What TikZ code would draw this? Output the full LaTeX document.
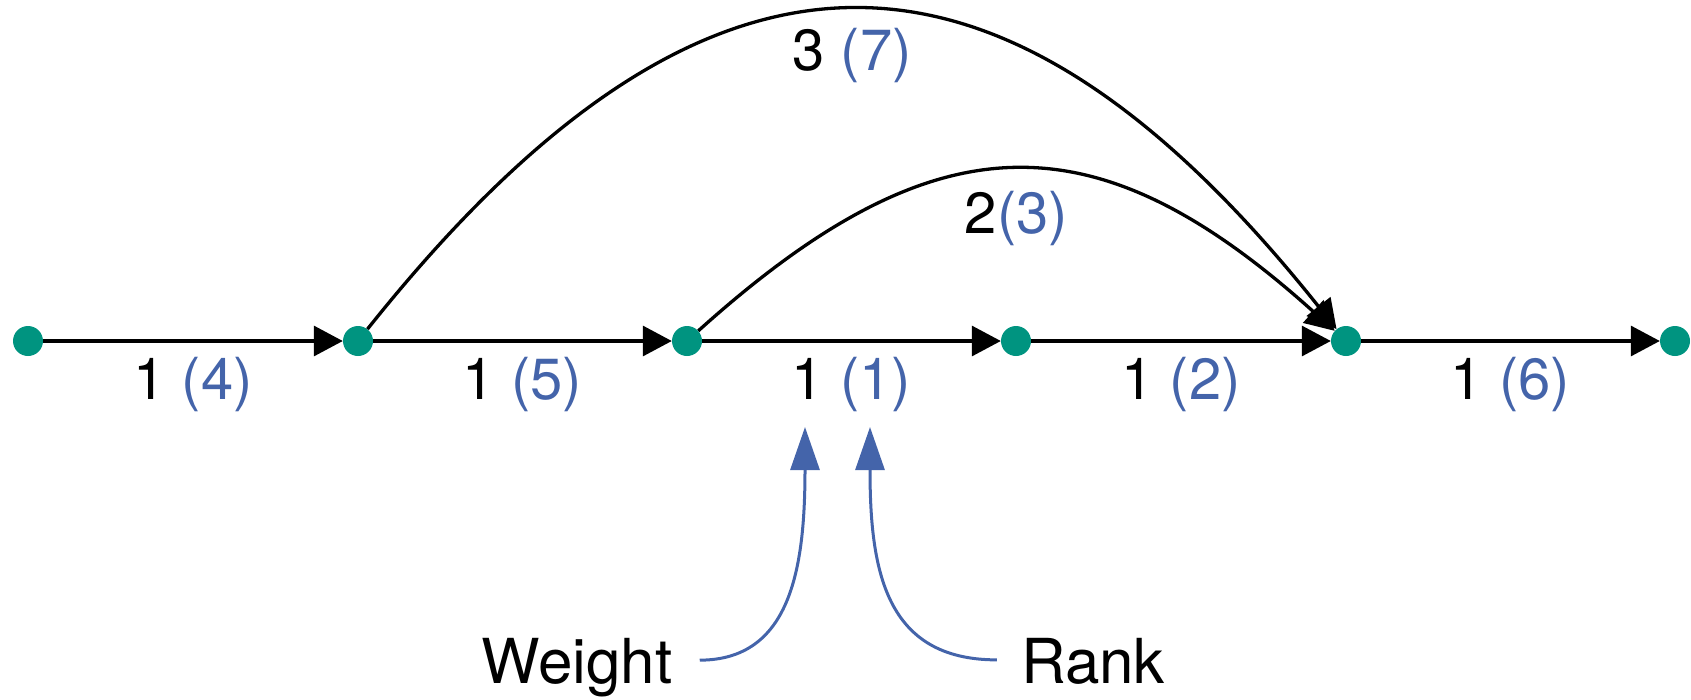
\documentclass[tikz,border=0pt]{standalone}
\usepackage{fontspec}
\setmainfont{TeX Gyre Heros}
\usepackage{tikz}
\usetikzlibrary{arrows.meta,positioning}
\definecolor{vertexgreen}{HTML}{009480}
\definecolor{rankblue}{HTML}{4464AA}
\newcommand{\rankof}[1]{{\color{rankblue}(#1)}}

\begin{document}
\begin{tikzpicture}[
    x=1pt, y=-1pt,
    vertex/.style={
        circle,
        fill=vertexgreen,
        minimum size=30pt,
        inner sep=0pt
    },
    edge/.style={
        draw,
        line width=3.3pt,
        -{Triangle[length=29pt,width=30pt]}
    },
    weightlabel/.style={
        anchor=base,
        inner sep=0pt,
        font=\fontsize{58}{70}\selectfont
    },
    pointerlabel/.style={
        weightlabel,
        font=\fontsize{62}{74}\selectfont
    },
    pointer/.style={
        draw=rankblue,
        line width=3pt,
        -{Triangle[length=43pt,width=29pt]}
    }
]
\useasboundingbox (0,0) rectangle (1691,699);

\node[vertex] (v1) at (28,341) {};
\node[vertex] (v2) at (358,341) {};
\node[vertex] (v3) at (687,341) {};
\node[vertex] (v4) at (1016,341) {};
\node[vertex] (v5) at (1346,341) {};
\node[vertex] (v6) at (1675,341) {};

\draw[edge] (v1) -- (v2) node[weightlabel, midway, yshift=-58pt] {1 \rankof{4}};
\draw[edge] (v2) -- (v3) node[weightlabel, midway, yshift=-58pt] {1 \rankof{5}};
\draw[edge] (v3) -- (v4) node[weightlabel, midway, yshift=-58pt] (w34) {1 \rankof{1}};
\draw[edge] (v4) -- (v5) node[weightlabel, midway, yshift=-58pt] {1 \rankof{2}};
\draw[edge] (v5) -- (v6) node[weightlabel, midway, yshift=-58pt] {1 \rankof{6}};

\draw[edge] (v2) .. controls (706,-96) and (998,-96) .. (v5)
    node[weightlabel, midway, yshift=-60pt] {3 \rankof{7}};
\draw[edge] (v3) .. controls (937,116) and (1096,116) .. (v5)
    node[weightlabel, midway, yshift=-64pt] {2\rankof{3}};

\node[pointerlabel] (weight) at (577,683) {Weight};
\node[pointerlabel] (rank) at (1093,683) {Rank};
\coordinate (wtip) at (805,427);
\coordinate (rtip) at (870,427);

\draw[pointer] ([xshift=27pt,yshift=7pt]weight.east) .. controls (790,660) and (805,570) .. (wtip);
\draw[pointer] ([xshift=-24pt,yshift=1pt]rank.west) .. controls (885,660) and (870,570) .. (rtip);

\end{tikzpicture}
\end{document}
